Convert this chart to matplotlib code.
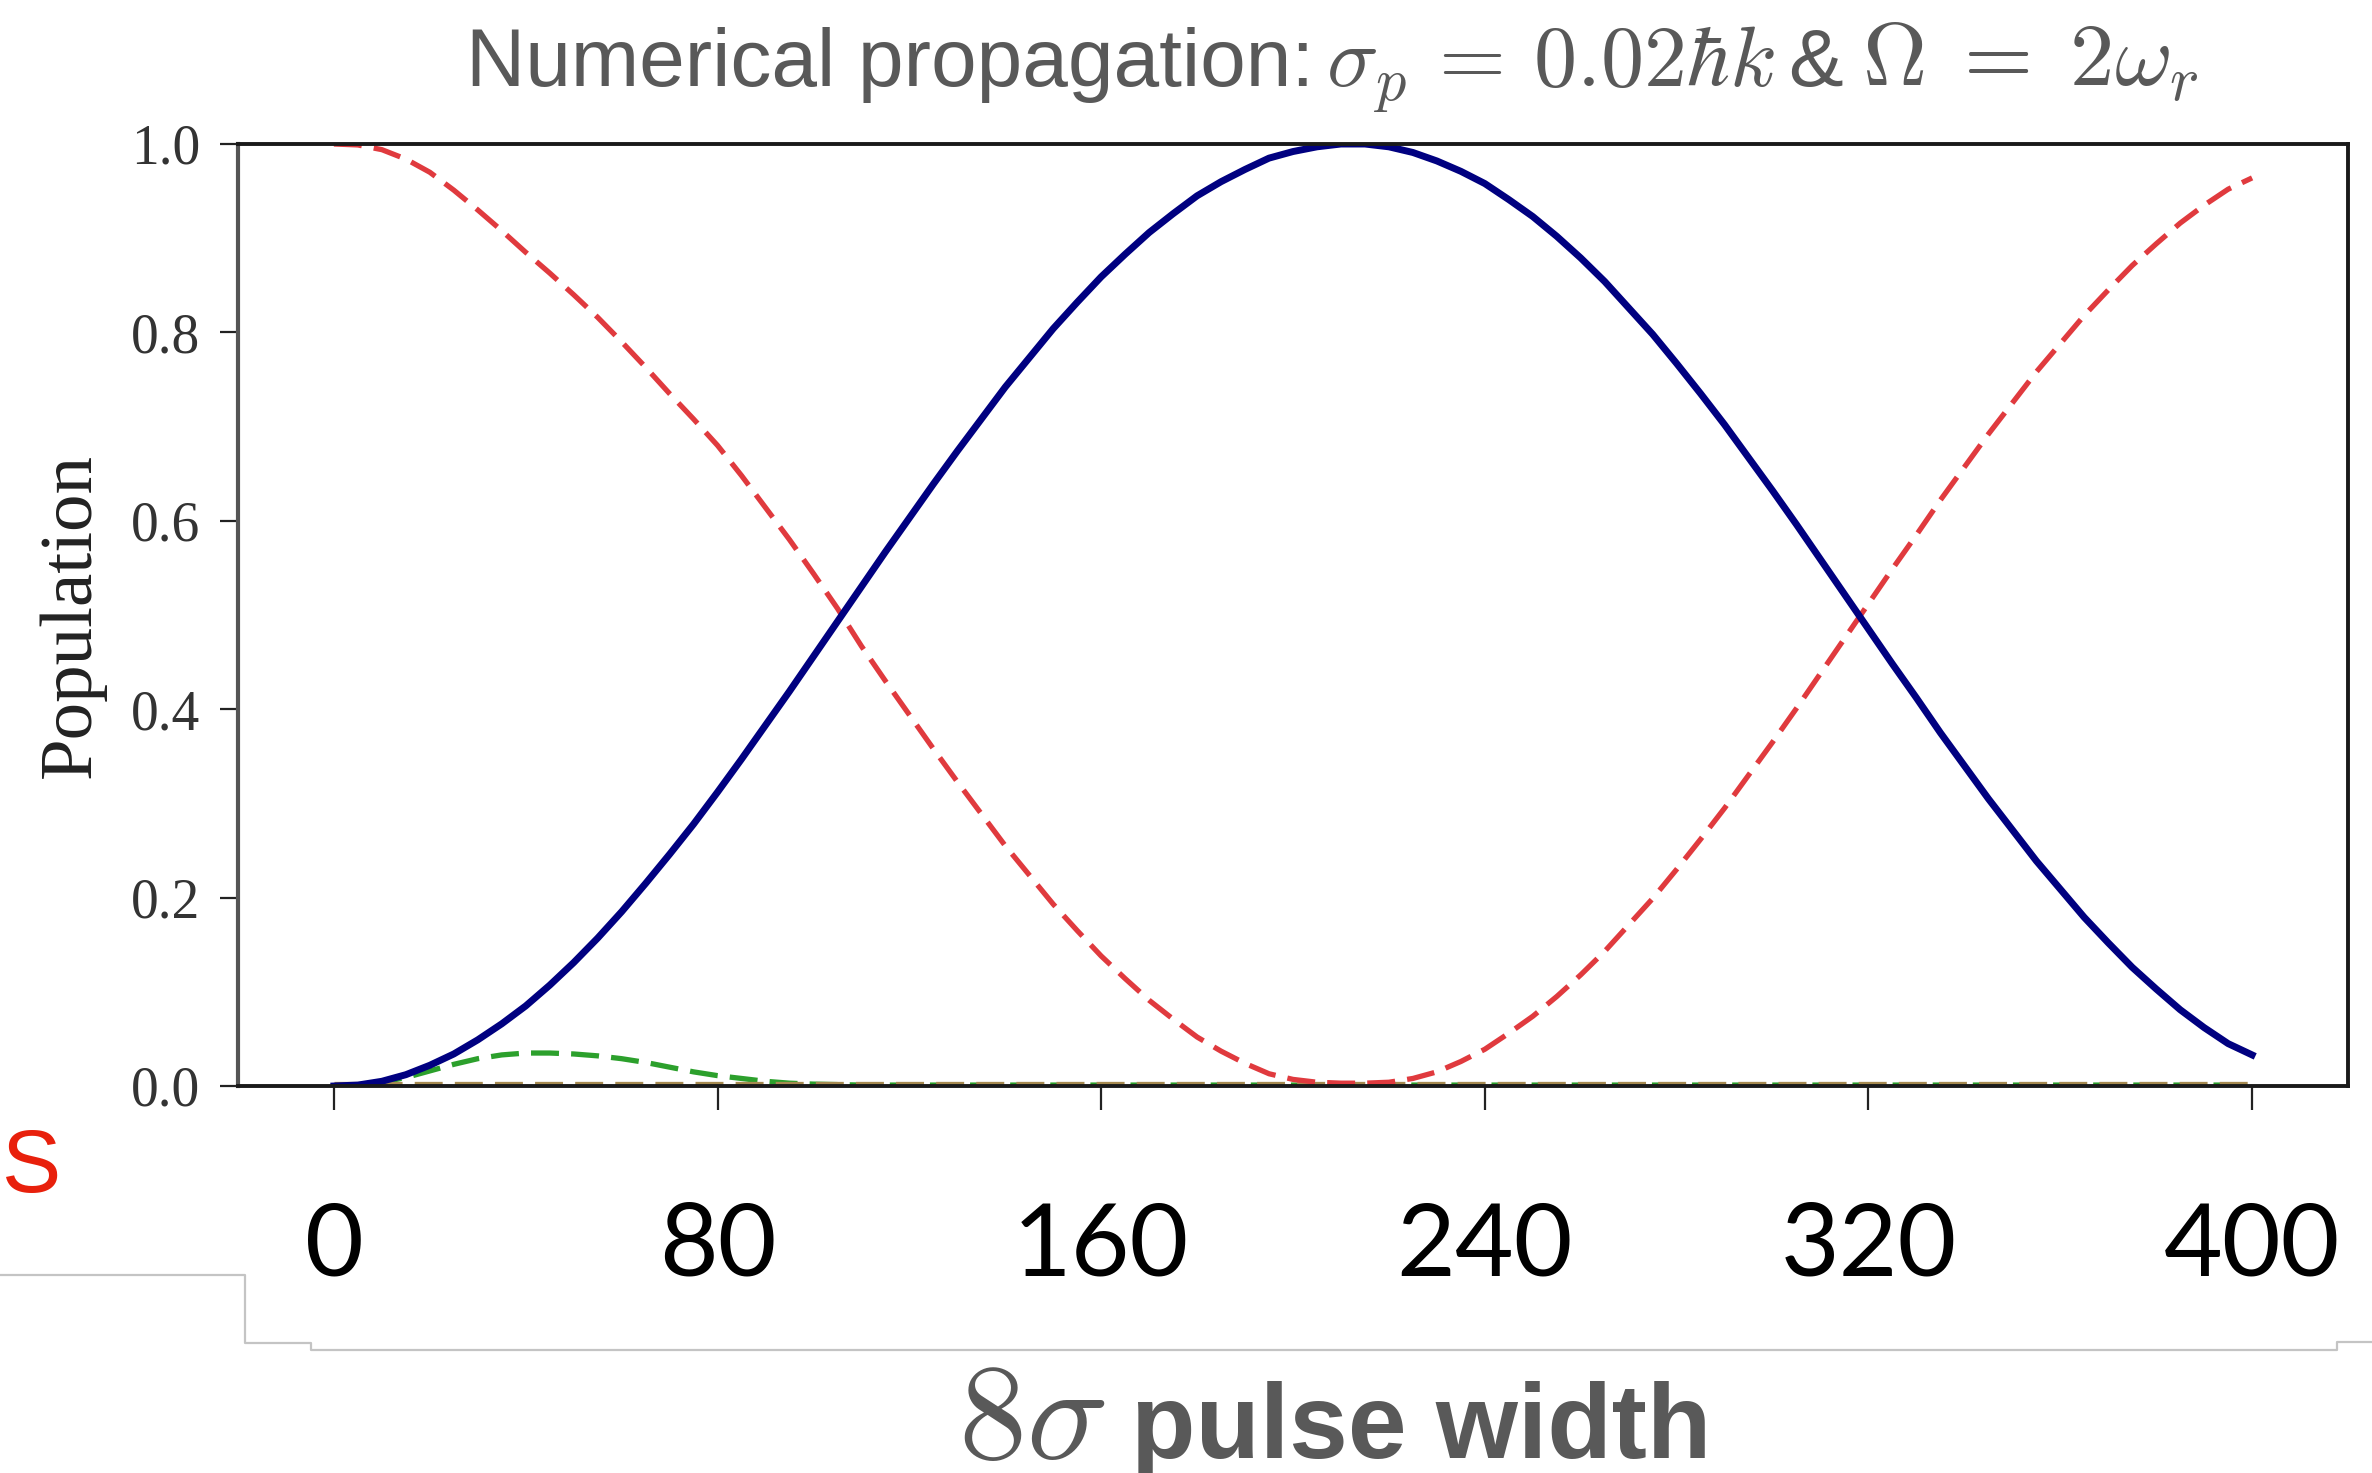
import matplotlib
matplotlib.use("Agg")
import matplotlib.pyplot as plt
from matplotlib.lines import Line2D

# datos (x = anchura del pulso 8σ, cada 5 unidades)
x_vals = list(range(0, 401, 5))

pob_azul = [0.000, 0.001, 0.005, 0.012, 0.022, 0.034, 0.049, 0.066, 0.085, 0.107,
            0.131, 0.157, 0.185, 0.215, 0.246, 0.278, 0.312, 0.347, 0.383, 0.419,
            0.456, 0.493, 0.530, 0.567, 0.603, 0.639, 0.674, 0.708, 0.742, 0.773,
            0.804, 0.832, 0.859, 0.883, 0.906, 0.926, 0.945, 0.960, 0.973, 0.985,
            0.992, 0.997, 1.000, 1.000, 0.997, 0.991, 0.982, 0.971, 0.958, 0.941,
            0.923, 0.902, 0.879, 0.854, 0.826, 0.798, 0.767, 0.735, 0.702, 0.667,
            0.632, 0.596, 0.559, 0.522, 0.485, 0.448, 0.412, 0.375, 0.340, 0.305,
            0.272, 0.239, 0.209, 0.179, 0.152, 0.126, 0.103, 0.081, 0.062, 0.045,
            0.033]

pob_roja = [1.000, 0.999, 0.994, 0.984, 0.970, 0.951, 0.930, 0.908, 0.885, 0.863,
            0.840, 0.816, 0.790, 0.763, 0.735, 0.708, 0.680, 0.648, 0.614, 0.580,
            0.544, 0.507, 0.467, 0.430, 0.394, 0.358, 0.323, 0.289, 0.255, 0.224,
            0.193, 0.165, 0.138, 0.114, 0.091, 0.071, 0.052, 0.037, 0.024, 0.013,
            0.007, 0.004, 0.003, 0.003, 0.004, 0.008, 0.015, 0.026, 0.039, 0.056,
            0.074, 0.095, 0.118, 0.143, 0.171, 0.199, 0.230, 0.262, 0.295, 0.330,
            0.365, 0.401, 0.438, 0.475, 0.512, 0.549, 0.585, 0.622, 0.657, 0.692,
            0.725, 0.758, 0.788, 0.818, 0.845, 0.871, 0.894, 0.916, 0.935, 0.952,
            0.964]

pob_verde = [0.000, 0.001, 0.004, 0.009, 0.016, 0.023, 0.029, 0.033, 0.035, 0.035,
             0.034, 0.032, 0.029, 0.025, 0.020, 0.015, 0.011, 0.008, 0.005, 0.003,
             0.002, 0.0015] + [0.001] * 59

pob_ocre = [0.002] * len(x_vals)

xticks = [0, 80, 160, 240, 320, 400]
xtick_labels = ["0", "80", "160", "240", "320", "400"]
yticks = [0.0, 0.2, 0.4, 0.6, 0.8, 1.0]
ytick_labels = ["0.0", "0.2", "0.4", "0.6", "0.8", "1.0"]

plt.rcParams["mathtext.fontset"] = "cm"

W, H = 2372, 1473
fig = plt.figure(figsize=(W / 100, H / 100), dpi=100)
ax = fig.add_axes([238 / W, 1 - 1086 / H, (2348 - 238) / W, (1086 - 144) / H])

gris = "#595959"
guiones = (5.3, 2.3)

# curvas
ax.plot(x_vals, pob_verde, color="#2ca02c", lw=3.8, dashes=guiones, zorder=2)
ax.plot(x_vals, pob_ocre, color="#a68a50", lw=3.8, dashes=guiones, zorder=2.1)
ax.plot(x_vals, pob_roja, color="#e03a3e", lw=3.8, dashes=guiones, zorder=2.2)
ax.plot(x_vals, pob_azul, color="#000080", lw=5.0, zorder=2.3)

ax.set_xlim(-20, 420)
ax.set_ylim(0, 1)

ax.set_xticks(xticks)
ax.set_xticklabels(xtick_labels, fontsize=73, family="Lato", color="black")
ax.set_yticks(yticks)
ax.set_yticklabels(ytick_labels, fontsize=40, family="Liberation Serif", color="#333333")
ax.tick_params(axis="x", length=17, width=1.6, pad=66, color="#222222")
ax.tick_params(axis="y", length=13, width=1.6, pad=14, color="#222222")

for lado in ["top", "right", "bottom"]:
    ax.spines[lado].set_linewidth(2.8)
    ax.spines[lado].set_color("#1a1a1a")
ax.spines["left"].set_linewidth(3)
ax.spines["left"].set_color("#555555")

# textos
fig.text(72 / W, 1 - 616 / H, "Population", rotation=90, ha="center", va="center",
         fontsize=54, family="Liberation Serif", color="#222222")

# título en trozos: texto sans + fórmulas algo mayores
yb = 1 - 86 / H
fig.text(466 / W, yb, "Numerical propagation:", ha="left", va="baseline", fontsize=59,
         family="Liberation Sans", color=gris)
fig.text(1326 / W, yb, r"$\sigma_p\,=\,0.02\hbar k$", ha="left", va="baseline",
         fontsize=62, color=gris)
fig.text(1815 / W, yb, "&", ha="center", va="baseline", fontsize=59,
         family="Liberation Sans", color=gris)
fig.text(1862 / W, yb, r"$\Omega\;=\;2\omega_r$", ha="left", va="baseline",
         fontsize=64, color=gris)

fig.text(1105 / W, 1 - 1458 / H, r"$8\sigma$", ha="right", va="baseline", fontsize=98, color=gris)
fig.text(1131 / W, 1 - 1458 / H, "pulse width", ha="left", va="baseline", fontsize=76,
         weight="bold", family="Liberation Sans", color=gris)
fig.text(2 / W, 1 - 1192 / H, "S", ha="left", va="baseline", fontsize=64,
         family="Liberation Sans", color="#e8200c")

# línea gris del recorte
px = [0, 245, 245, 311, 311, 2337, 2337, 2372]
py = [1275, 1275, 1343, 1343, 1350, 1350, 1342, 1342]
fig.add_artist(Line2D([p / W for p in px], [1 - p / H for p in py], color="#c4c4c4", lw=1.6,
                      transform=fig.transFigure))

fig.savefig("out.png", dpi=100)
